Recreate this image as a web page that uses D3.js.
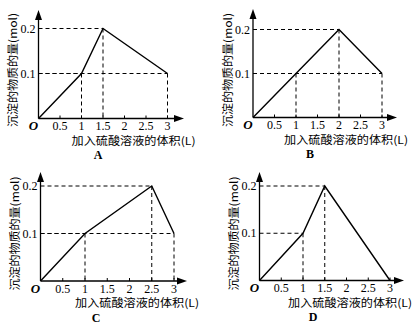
<!DOCTYPE html>
<html><head><meta charset="utf-8">
<script src="https://cdn.jsdelivr.net/npm/d3@7"></script>
<style>body{margin:0;background:#fff}svg{display:block}</style>
</head><body>
<script>
const xTicks = [0.5, 1, 1.5, 2, 2.5, 3];
const xTickLabels = ["0.5", "1", "1.5", "2", "2.5", "3"];
const yTicks = [0.1, 0.2];
const yTickLabels = ["0.1", "0.2"];
const panelNames = ["A", "B", "C", "D"];
const volA = [0, 1, 1.5, 3], molA = [0, 0.1, 0.2, 0.1];
const volB = [0, 1, 2, 3], molB = [0, 0.1, 0.2, 0.1];
const volC = [0, 1, 2.5, 3], molC = [0, 0.1, 0.2, 0.1];
const volD = [0, 1, 1.5, 3], molD = [0, 0.1, 0.2, 0];
const xTitle = "加入硫酸溶液的体积(L)";
const yTitle = "沉淀的物质的量(mol)";

const layouts = [
  {ox: 38.5, oy: 118.5, x3: 167.5, y2: 28.5, xEnd: 184, yTop: 10, ylabX: 13, titleX: 71.5, letterX: 98, ylabC: 70},
  {ox: 253, oy: 117.5, x3: 382, y2: 29.5, xEnd: 397, yTop: 9, ylabX: 228, titleX: 284, letterX: 310, ylabC: 70},
  {ox: 40.5, oy: 281, x3: 174, y2: 186, xEnd: 187, yTop: 172, ylabX: 15, titleX: 75, letterX: 96, ylabC: 233.5},
  {ox: 259.5, oy: 280.5, x3: 390, y2: 186, xEnd: 404, yTop: 172, ylabX: 234, titleX: 288, letterX: 313, ylabC: 233.5}
];
const vols = [volA, volB, volC, volD];
const mols = [molA, molB, molC, molD];

const svg = d3.select("body").append("svg").attr("width", 420).attr("height", 324);
const serif = "'Liberation Serif','Times New Roman',serif";
const cjk = "'Noto Sans CJK SC',sans-serif";

panelNames.forEach((name, i) => {
  const L = layouts[i];
  const x = d3.scaleLinear().domain([0, 3]).range([L.ox, L.x3]);
  const y = d3.scaleLinear().domain([0, 0.2]).range([L.oy, L.y2]);
  const g = svg.append("g");
  const pts = vols[i].map((v, k) => [v, mols[i][k]]);

  // dashed guide lines
  const peaks = pts.slice(1).filter(p => p[1] > 0);
  peaks.forEach(p => {
    g.append("line").attr("x1", x(0)).attr("x2", x(p[0])).attr("y1", y(p[1])).attr("y2", y(p[1]))
      .attr("stroke", "#000").attr("stroke-width", 1).attr("stroke-dasharray", "4,3");
    g.append("line").attr("x1", x(p[0])).attr("x2", x(p[0])).attr("y1", y(p[1])).attr("y2", y(0))
      .attr("stroke", "#000").attr("stroke-width", 1).attr("stroke-dasharray", "4,3");
  });

  // axes
  g.append("line").attr("x1", L.ox).attr("x2", L.xEnd - 6).attr("y1", L.oy).attr("y2", L.oy)
    .attr("stroke", "#000").attr("stroke-width", 1.3);
  g.append("line").attr("x1", L.ox).attr("x2", L.ox).attr("y1", L.oy).attr("y2", L.yTop + 6)
    .attr("stroke", "#000").attr("stroke-width", 1.3);
  g.append("path").attr("d", `M${L.xEnd},${L.oy} L${L.xEnd - 10},${L.oy - 3.5} L${L.xEnd - 10},${L.oy + 3.5} Z`).attr("fill", "#000");
  g.append("path").attr("d", `M${L.ox},${L.yTop} L${L.ox - 3.5},${L.yTop + 10} L${L.ox + 3.5},${L.yTop + 10} Z`).attr("fill", "#000");

  // x ticks
  xTicks.forEach((t, k) => {
    g.append("line").attr("x1", x(t)).attr("x2", x(t)).attr("y1", L.oy).attr("y2", L.oy - 3)
      .attr("stroke", "#000").attr("stroke-width", 1);
    g.append("text").attr("x", x(t)).attr("y", L.oy + 11.5).attr("text-anchor", "middle")
      .attr("font-family", serif).attr("font-size", 12).text(xTickLabels[k]);
  });
  yTicks.forEach((t, k) => {
    g.append("text").attr("x", L.ox - 3).attr("y", y(t) + 4).attr("text-anchor", "end")
      .attr("font-family", serif).attr("font-size", 12).text(yTickLabels[k]);
  });
  g.append("text").attr("x", L.ox - 5).attr("y", L.oy + 11.5).attr("text-anchor", "middle")
    .attr("font-family", serif).attr("font-size", 13).attr("font-style", "italic").attr("font-weight", "bold").text("O");

  // data line
  g.append("path").datum(pts)
    .attr("d", d3.line().x(d => x(d[0])).y(d => y(d[1])))
    .attr("fill", "none").attr("stroke", "#000").attr("stroke-width", 1.4);

  // titles
  g.append("text").attr("x", L.titleX).attr("y", L.oy + 26).attr("font-family", cjk)
    .attr("font-size", 11).attr("textLength", 124).attr("lengthAdjust", "spacingAndGlyphs").text(xTitle);
  g.append("text").attr("x", L.letterX).attr("y", L.oy + 40.5).attr("text-anchor", "middle")
    .attr("font-family", serif).attr("font-size", 12).attr("font-weight", "bold").text(name);
  g.append("text").attr("transform", `translate(${L.ylabX + 4},${L.ylabC}) rotate(-90)`)
    .attr("text-anchor", "middle").attr("font-family", cjk).attr("font-size", 11)
    .attr("textLength", 114).attr("lengthAdjust", "spacingAndGlyphs").text(yTitle);
});
</script>
</body></html>
